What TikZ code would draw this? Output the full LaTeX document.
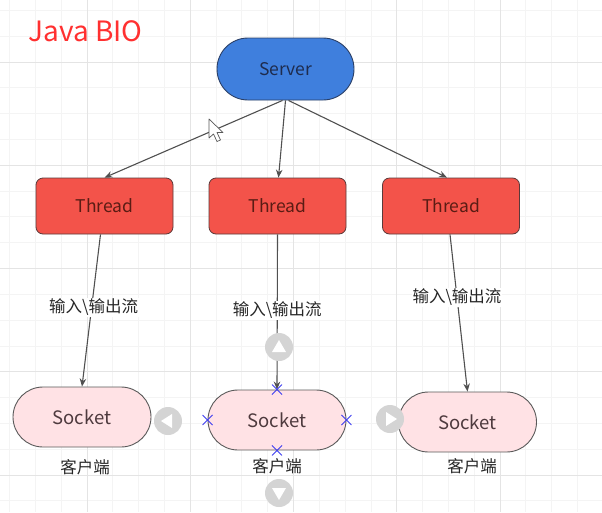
\documentclass[tikz,border=0pt]{standalone}
\usepackage{fontspec}
\setmainfont{Noto Sans CJK SC}
\usetikzlibrary{arrows.meta,calc}
\definecolor{serverfill}{HTML}{3F7FDD}
\definecolor{serverdraw}{HTML}{2A3F66}
\definecolor{servertext}{HTML}{1E2C4E}
\definecolor{threadfill}{HTML}{F3534A}
\definecolor{threaddraw}{HTML}{5A3A3A}
\definecolor{threadtext}{HTML}{5A1C14}
\definecolor{socketfill}{HTML}{FFE2E5}
\definecolor{socketdraw}{HTML}{5A5A5A}
\definecolor{sockettext}{HTML}{4E3A3E}
\definecolor{edgecol}{HTML}{505050}
\definecolor{titlered}{HTML}{FF3030}
\definecolor{minorgrid}{HTML}{F4F4F4}
\definecolor{majorgrid}{HTML}{E4E4E4}
\definecolor{hintgray}{HTML}{D4D4D4}
\definecolor{xblue}{HTML}{3C3CF0}
\tikzset{
  serverbox/.style={draw=serverdraw, line width=0.9pt, fill=serverfill, rounded corners=31pt,
    minimum width=137pt, minimum height=62pt, text=servertext, font=\fontsize{17.5}{19}\selectfont},
  threadbox/.style={draw=threaddraw, line width=0.8pt, fill=threadfill, rounded corners=7pt,
    minimum width=137pt, minimum height=56pt, text=threadtext, font=\fontsize{17.5}{19}\selectfont},
  socketbox/.style={draw=socketdraw, line width=0.9pt, fill=socketfill, rounded corners=30pt,
    minimum width=138pt, minimum height=60pt, text=sockettext, font=\fontsize{18.5}{20}\selectfont},
  conn/.style={draw=edgecol, line width=1.1pt, -{Stealth[length=8pt,width=6.5pt]}},
  elabel/.style={fill=white, inner sep=1pt, text=black!85, font=\fontsize{16.5}{18}\selectfont},
  clabel/.style={text=black!85, font=\fontsize{16.5}{18}\selectfont},
  mgrid/.style={draw=minorgrid, line width=0.8pt},
  Mgrid/.style={draw=majorgrid, line width=1pt},
  hint/.style={fill=hintgray},
  xmark/.style={draw=xblue, line width=0.8pt},
}
\begin{document}
\begin{tikzpicture}[x=1pt,y=-1pt]
\useasboundingbox (0,0) rectangle (602,512);
\fill[white] (0,0) rectangle (602,512);
% grid
\foreach \i in {-3,...,20} { \draw[mgrid] ({87+\i*25.8125},0) -- ({87+\i*25.8125},512); }
\foreach \j in {-2,...,19} { \draw[mgrid] (0,{62+\j*25.8125}) -- (602,{62+\j*25.8125}); }
\foreach \i in {0,...,4} { \draw[Mgrid] ({87+\i*103.25},0) -- ({87+\i*103.25},512); }
\foreach \j in {0,...,4} { \draw[Mgrid] (0,{62+\j*103.25}) -- (602,{62+\j*103.25}); }
% title
\node[anchor=west, text=titlered, font=\fontsize{28}{30}\selectfont] (title) at (25,31) {Java BIO};
% nodes
\node[serverbox] (server) at (285.5,69) {Server};
\node[threadbox] (t1) at (104.5,206) {Thread};
\node[threadbox] (t2) at (277.5,206) {Thread};
\node[threadbox] (t3) at (451,206) {Thread};
\node[socketbox] (s1) at (82,417) {Socket};
\node[socketbox] (s2) at (277,420) {Socket};
\node[socketbox] (s3) at (467.5,422) {Socket};
\node[clabel] (c1) at (85,467) {客户端};
\node[clabel] (c2) at (277,466) {客户端};
\node[clabel] (c3) at (472,466) {客户端};
% connectors
\draw[conn] ([xshift=-3pt]server.south) -- (t1.north);
\draw[conn] (server.south) -- ([xshift=1pt]t2.north);
\draw[conn] ([xshift=3pt]server.south) -- ([xshift=-4pt]t3.north);
\draw[conn] ([xshift=-4pt]t1.south) -- node[elabel, pos=0.48, xshift=2pt] (l1) {输入\textbackslash 输出流} (s1.north);
\draw[conn] (t2.south) -- node[elabel, pos=0.49] (l2) {输入\textbackslash 输出流} (s2.north);
\draw[conn] ([xshift=-1pt]t3.south) -- node[elabel, pos=0.40] (l3) {输入\textbackslash 输出流} (s3.north);
% hover hints
\fill[hint] (168,421) circle (14);
\fill[white] (161,421) -- (172,414) -- (172,428) -- cycle;
\fill[hint] (279,347) circle (14);
\fill[white] (279,340) -- (272,352) -- (286,352) -- cycle;
\fill[hint] (390,419) circle (14);
\fill[white] (397,419) -- (386,412) -- (386,426) -- cycle;
\fill[hint] (279,493) circle (14);
\fill[white] (279,500) -- (272,488) -- (286,488) -- cycle;
% connection points
\foreach \p in {s2.north, s2.south, s2.west, s2.east} {
  \draw[xmark] ($(\p)+(-5,-5)$) -- ($(\p)+(5,5)$);
  \draw[xmark] ($(\p)+(-5,5)$) -- ($(\p)+(5,-5)$);
}
% cursor
\draw[fill=white, draw=gray!70!black, line width=0.7pt, line join=round]
  (209,119) -- (209,138) -- (213.5,134) -- (217,141.5) -- (220.5,140) -- (217,132.5) -- (223,132.5) -- cycle;
\end{tikzpicture}
\end{document}
